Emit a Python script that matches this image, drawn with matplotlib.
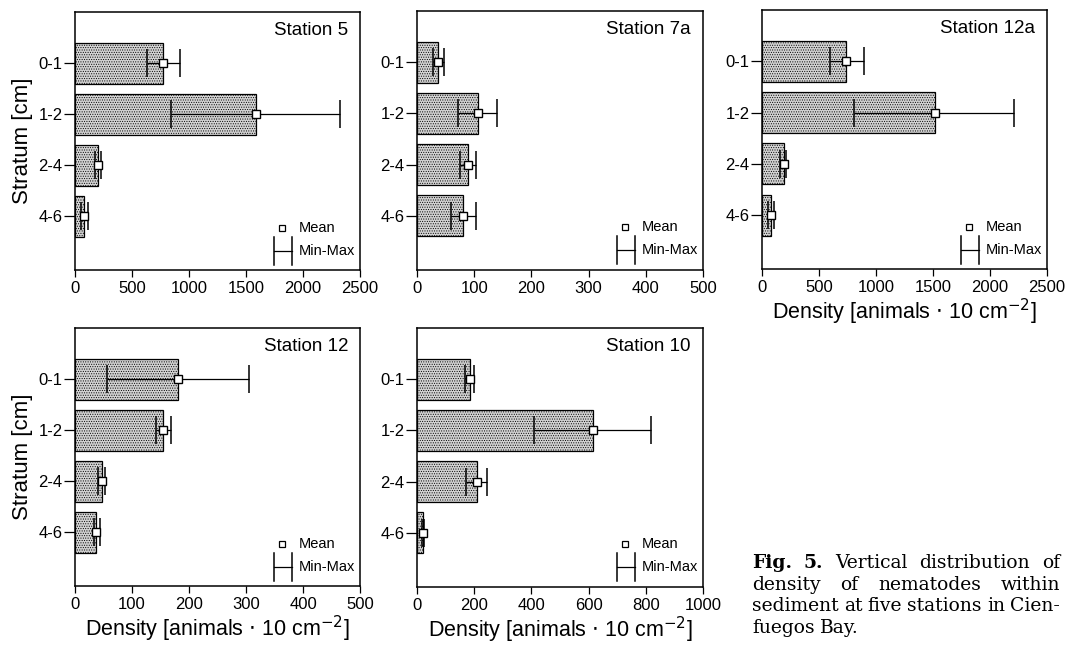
import numpy as np
import matplotlib
matplotlib.use("Agg")
import matplotlib.pyplot as plt

plt.rcParams['font.family'] = ['Liberation Sans', 'DejaVu Sans']
plt.rcParams['hatch.linewidth'] = 0.45
plt.rcParams['hatch.color'] = '#707070'

strata = ['0-1', '1-2', '2-4', '4-6']

# station 5
st5_mean = [775, 1585, 200, 82]
st5_min = [630, 840, 175, 53]
st5_max = [920, 2325, 225, 117]

# station 7a
st7a_mean = [37, 106, 90, 80]
st7a_min = [28, 72, 76, 60]
st7a_max = [47, 139, 104, 104]

# station 12a
st12a_mean = [740, 1515, 196, 82]
st12a_min = [600, 810, 161, 50]
st12a_max = [892, 2213, 213, 102]

# station 12
st12_mean = [181, 154, 47, 37]
st12_min = [57, 142, 40, 33]
st12_max = [306, 168, 53, 43]

# station 10
st10_mean = [184, 614, 211, 20]
st10_min = [169, 408, 171, 16]
st10_max = [200, 818, 245, 24]

caption = [
    [('Fig.', 'bold'), ('5.', 'bold'), ('Vertical', 'normal'), ('distribution', 'normal'), ('of', 'normal')],
    [('density', 'normal'), ('of', 'normal'), ('nematodes', 'normal'), ('within', 'normal')],
    [('sediment', 'normal'), ('at', 'normal'), ('five', 'normal'), ('stations', 'normal'),
     ('in', 'normal'), ('Cien-', 'normal')],
    [('fuegos', 'normal'), ('Bay.', 'normal')],
]

W, H = 1068, 647


def panel(rect_px, title, mean, vmin, vmax, xmax, xstep, ylabel=False, xlabel=None):
    l, t, r, b = rect_px
    ax = fig.add_axes([l / W, 1 - b / H, (r - l) / W, (b - t) / H])
    y = np.arange(1, len(strata) + 1)
    mean = np.array(mean)
    ax.barh(y, mean, height=0.8, color='#d2d2d2', edgecolor='black',
            linewidth=0.9, hatch='.......', zorder=2)
    lo = mean - np.array(vmin)
    hi = np.array(vmax) - mean
    ax.errorbar(mean, y, xerr=[lo, hi], fmt='none', ecolor='black',
                elinewidth=0.9, capsize=10, capthick=1.1, zorder=3)
    ax.plot(mean, y, 's', ms=5.8, mfc='white', mec='black', mew=1.0, zorder=4)
    ax.set_ylim(5.05, 0)
    ax.set_xlim(0, xmax)
    ax.set_xticks(np.arange(0, xmax + 1, xstep))
    ax.set_yticks(y)
    ax.set_yticklabels(strata)
    ax.tick_params(axis='y', length=8, width=0.9, labelsize=12, pad=1)
    ax.tick_params(axis='x', length=5, width=0.9, labelsize=12, pad=3)
    for s in ax.spines.values():
        s.set_linewidth(1.1)
    ax.text(0.958, 0.927, title, transform=ax.transAxes, ha='right',
            va='center', fontsize=13.5)
    # legend
    ax.plot([0.726], [0.163], 's', ms=4, mfc='white', mec='black', mew=0.9,
            transform=ax.transAxes, clip_on=False)
    ax.text(0.786, 0.163, 'Mean', transform=ax.transAxes, va='center', fontsize=10.5)
    ax.plot([0.698, 0.761], [0.074, 0.074], color='black', lw=0.9,
            transform=ax.transAxes)
    for xc in (0.698, 0.761):
        ax.plot([xc, xc], [0.02, 0.128], color='black', lw=1.1,
                transform=ax.transAxes)
    ax.text(0.786, 0.074, 'Min-Max', transform=ax.transAxes, va='center', fontsize=10.5)
    if ylabel:
        ax.set_ylabel('Stratum [cm]', fontsize=16, labelpad=4)
    if xlabel is not None:
        ax.set_xlabel(r'Density [animals $\cdot$ 10 cm$^{-2}$]', fontsize=15.5, labelpad=xlabel)
    return ax


fig = plt.figure(figsize=(W / 100, H / 100), dpi=100)

panel((75, 12, 360, 270), 'Station 5', st5_mean, st5_min, st5_max, 2500, 500, ylabel=True)
panel((417, 11, 703, 269.5), 'Station 7a', st7a_mean, st7a_min, st7a_max, 500, 100)
panel((762, 10, 1047, 269), 'Station 12a', st12a_mean, st12a_min, st12a_max, 2500, 500, xlabel=1)
panel((75, 328, 360, 586), 'Station 12', st12_mean, st12_min, st12_max, 500, 100, ylabel=True, xlabel=1.5)
panel((417, 328, 703, 586.5), 'Station 10', st10_mean, st10_min, st10_max, 1000, 200, xlabel=1.5)

# caption, justified like the printed text
serif = ['DejaVu Serif']
x0, x1 = 752, 1060
renderer = fig.canvas.get_renderer()
for i, words in enumerate(caption):
    yy = 1 - (563 + 21.7 * i) / H
    texts = [fig.text(0, yy, w, family=serif, fontsize=13.5, fontweight=fw, va='center')
             for w, fw in words]
    widths = [t.get_window_extent(renderer).width for t in texts]
    if i < len(caption) - 1:
        gap = (x1 - x0 - sum(widths)) / (len(words) - 1)
    else:
        gap = 5
    x = x0
    for t, w in zip(texts, widths):
        t.set_x(x / W)
        x += w + gap

fig.savefig('out.png', dpi=100)
